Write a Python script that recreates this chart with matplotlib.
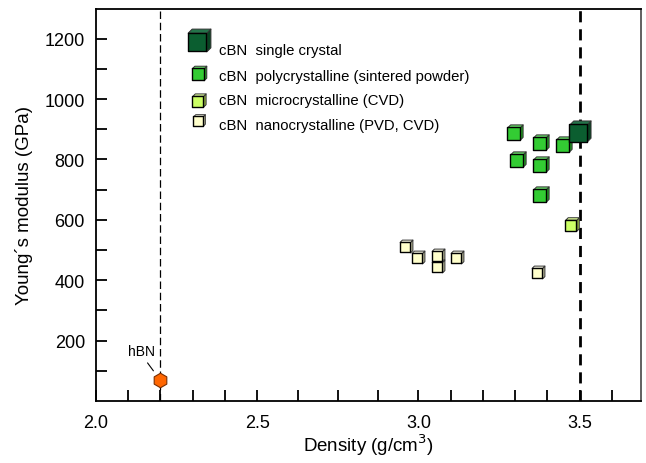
import numpy as np
import matplotlib
matplotlib.use('Agg')
import matplotlib.pyplot as plt
from matplotlib.path import Path

plt.rcParams['font.family'] = ['Liberation Sans', 'DejaVu Sans']

# data
single_x = [3.50]
single_y = [894]
poly_x = [3.30, 3.38, 3.45, 3.31, 3.38, 3.38]
poly_y = [890, 857, 852, 802, 784, 686]
micro_x = [3.476]
micro_y = [587]
nano_x = [2.96, 3.00, 3.06, 3.06, 3.12, 3.37]
nano_y = [515, 476, 485, 446, 478, 426]
hbn_x = [2.2]
hbn_y = [70]

legend_labels = ['cBN  single crystal',
                 'cBN  polycrystalline (sintered powder)',
                 'cBN  microcrystalline (CVD)',
                 'cBN  nanocrystalline (PVD, CVD)']

x_major = [2.0, 2.5, 3.0, 3.5]
x_minor = [2.1, 2.2, 2.3, 2.4, 2.625, 2.75, 2.875, 3.1, 3.2, 3.3, 3.4, 3.6]
y_major = [200, 400, 600, 800, 1000, 1200]
y_minor = [100, 300, 500, 700, 900, 1100]

# cube faces as marker paths (all scaled to the same box)
f = 0.32
front = Path([(-0.5, -0.5), (f, -0.5), (f, f), (-0.5, f), (-0.5, -0.5)], closed=True)
top = Path([(-0.5, f), (f, f), (0.5, 0.5), (-f, 0.5), (-0.5, f)], closed=True)
side = Path([(f, -0.5), (0.5, -f), (0.5, 0.5), (f, f), (f, -0.5)], closed=True)

styles = {
    'single': dict(front='#0b5e30', top='#24744a', side='#084422', s=230),
    'poly': dict(front='#33cc33', top='#66d966', side='#229922', s=120),
    'micro': dict(front='#ccff66', top='#e0ff99', side='#99bb44', s=95),
    'nano': dict(front='#ffffcc', top='#fbfbe6', side='#bcbc9a', s=85),
}


def cubes(ax, x, y, st, s=None):
    s = st['s'] if s is None else s
    ax.scatter(x, y, marker=side, s=s, c=st['side'], edgecolors='#333333', linewidths=0.7, zorder=4)
    ax.scatter(x, y, marker=top, s=s, c=st['top'], edgecolors='#333333', linewidths=0.7, zorder=4)
    ax.scatter(x, y, marker=front, s=s, c=st['front'], edgecolors='black', linewidths=1.0, zorder=5)


fig = plt.figure(figsize=(6.46, 4.64), dpi=100)
ax = fig.add_axes([0.1486, 0.1336, 0.8437, 0.8459])

ax.axvline(2.2, color='black', lw=0.9, dashes=(6, 3), zorder=1)
ax.axvline(3.5, color='black', lw=2.0, dashes=(4, 2.5), zorder=1)

cubes(ax, nano_x, nano_y, styles['nano'])
cubes(ax, micro_x, micro_y, styles['micro'])
cubes(ax, poly_x, poly_y, styles['poly'])
cubes(ax, single_x, single_y, styles['single'])

ax.scatter(hbn_x, hbn_y, marker='h', s=110, c='#ff6600', edgecolors='#7a2e00', linewidths=0.8, zorder=5)
ax.annotate('hBN', xy=(2.178, 100), xytext=(2.14, 166), ha='center', va='center', fontsize=10,
            arrowprops=dict(arrowstyle='-', color='black', lw=0.8, relpos=(0.6, 0.0), shrinkA=2, shrinkB=0))

# hand made legend
leg_y = [1195, 1085, 998, 930]
leg_s = [270, 110, 90, 70]
for key, ly, ls in zip(['single', 'poly', 'micro', 'nano'], leg_y, leg_s):
    cubes(ax, [2.318], [ly], styles[key], s=ls)
ax_text_y = [1163, 1077, 997, 913]
for ty, lab in zip(ax_text_y, legend_labels):
    ax.text(2.38, ty, lab, fontsize=10.7, va='center', ha='left')

ax.set_xlim(2.0, 3.69)
ax.set_ylim(0, 1300)
ax.set_xticks(x_major)
ax.set_xticklabels(['2.0', '2.5', '3.0', '3.5'])
ax.set_xticks(x_minor, minor=True)
ax.set_yticks(y_major)
ax.set_yticks(y_minor, minor=True)
ax.tick_params(which='both', direction='in', length=8, width=1.3, labelsize=13)
ax.tick_params(axis='y', pad=8)
ax.tick_params(axis='x', pad=9)

for sp in ax.spines.values():
    sp.set_linewidth(1.3)
ax.spines['right'].set_color('#555555')

ax.set_xlabel('Density (g/cm$^3$)', fontsize=13.5, labelpad=1)
ax.set_ylabel('Young´s modulus (GPa)', fontsize=13.5, labelpad=8)

fig.savefig('out.png', dpi=100)
